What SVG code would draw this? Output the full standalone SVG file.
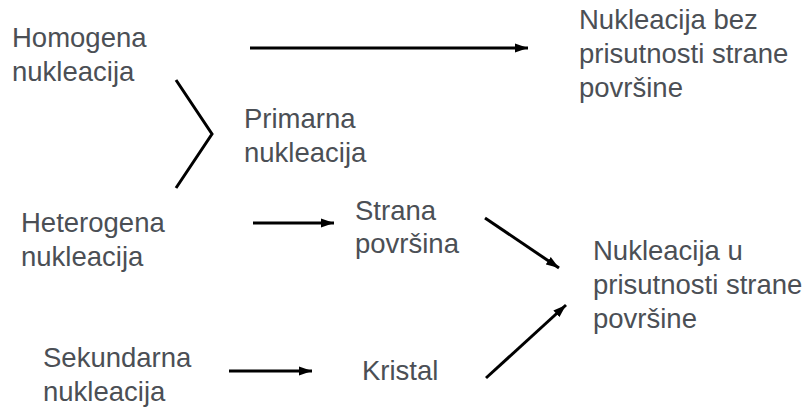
<svg xmlns="http://www.w3.org/2000/svg" width="811" height="408" viewBox="0 0 811 408">
<defs>
<style>
text{font-family:"Liberation Sans",Arial,sans-serif;font-size:27.5px;fill:#4b4f55}
.c{stroke:#000;stroke-width:3;fill:none}
.a{marker-end:url(#ah)}
</style>
<marker id="ah" markerUnits="userSpaceOnUse" markerWidth="14" markerHeight="10" refX="13" refY="5" orient="auto">
<path d="M0,0.5 L13,5 L0,9.5 z" fill="#000"/>
</marker>
</defs>
<rect width="811" height="408" fill="#fff"/>
<g id="connectors">
<line class="c a" x1="250" y1="48" x2="528" y2="48"/>
<polyline class="c" points="176,80 212,134 176,188"/>
<line class="c a" x1="253" y1="223" x2="334" y2="223"/>
<line class="c a" x1="229" y1="371" x2="312" y2="371"/>
<line class="c a" x1="485" y1="218" x2="559" y2="268"/>
<line class="c a" x1="486" y1="378" x2="566" y2="305"/>
</g>
<g id="homogena"><text x="12" y="47">Homogena<tspan x="12" y="81">nukleacija</tspan></text></g>
<g id="bez"><text x="579" y="29">Nukleacija bez<tspan x="579" y="63">prisutnosti strane</tspan><tspan x="579" y="97">površine</tspan></text></g>
<g id="primarna"><text x="244" y="128">Primarna<tspan x="244" y="162">nukleacija</tspan></text></g>
<g id="heterogena"><text x="21" y="232">Heterogena<tspan x="21" y="266">nukleacija</tspan></text></g>
<g id="strana"><text x="355" y="220">Strana<tspan x="355" y="253">površina</tspan></text></g>
<g id="prisutnost"><text x="593" y="260">Nukleacija u<tspan x="593" y="294">prisutnosti strane</tspan><tspan x="593" y="328">površine</tspan></text></g>
<g id="sekundarna"><text x="43" y="367">Sekundarna<tspan x="43" y="401">nukleacija</tspan></text></g>
<g id="kristal"><text x="362" y="380">Kristal</text></g>
</svg>
